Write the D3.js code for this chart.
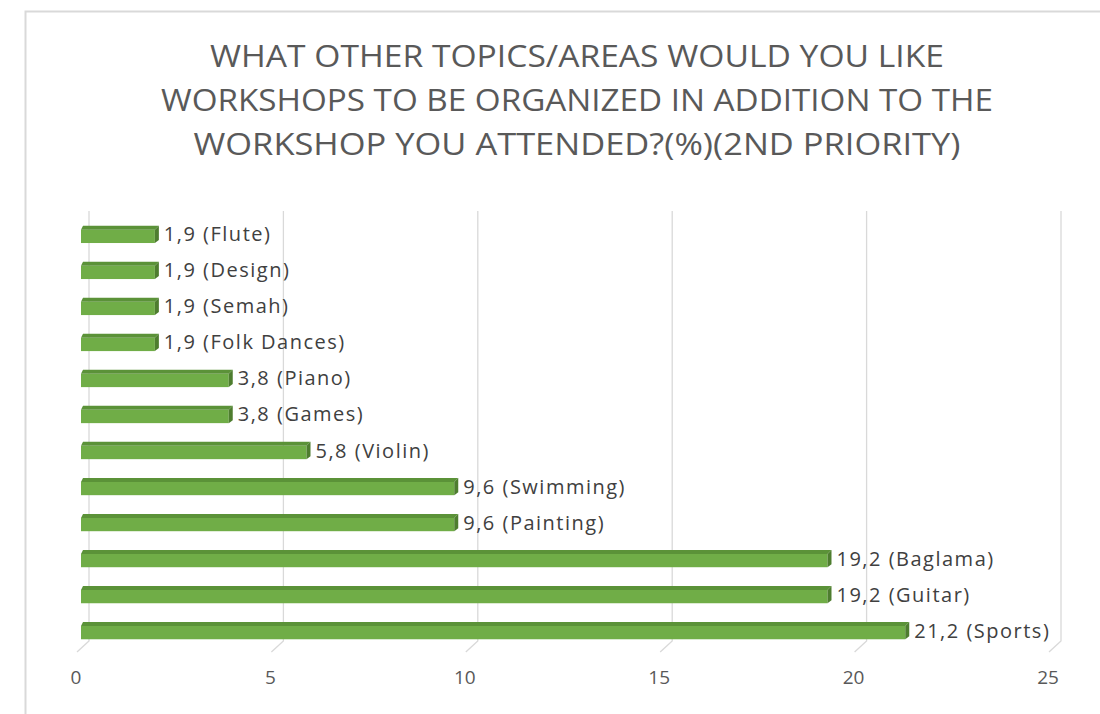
<!DOCTYPE html>
<html>
<head>
    <meta charset="UTF-8">
    <title>Workshop topics (2nd priority)</title>
    <script src="https://d3js.org/d3.v7.min.js"></script>
    <style>
        body { margin: 0; background: #fff; }
        svg { display: block; }
        .title { font-family: "Open Sans", sans-serif; font-size: 31px; font-weight: 500; fill: #595959; text-anchor: middle; }
        .lbl { font-family: "Open Sans", sans-serif; font-size: 20px; fill: #404040; letter-spacing: 1.5px; }
        .tick-lbl { font-family: "Open Sans", sans-serif; font-size: 19px; fill: #595959; text-anchor: middle; }
    </style>
</head>
<body>
<div id="chart"></div>
<script>
    // data, top to bottom
    var categories = ["Flute", "Design", "Semah", "Folk Dances", "Piano", "Games",
                      "Violin", "Swimming", "Painting", "Baglama", "Guitar", "Sports"];
    var values = [1.9, 1.9, 1.9, 1.9, 3.8, 3.8, 5.8, 9.6, 9.6, 19.2, 19.2, 21.2];
    var tickValues = [0, 5, 10, 15, 20, 25];
    var titleLines = [
        "WHAT OTHER TOPICS/AREAS WOULD YOU LIKE",
        "WORKSHOPS TO BE ORGANIZED IN ADDITION TO THE",
        "WORKSHOP YOU ATTENDED?(%)(2ND PRIORITY)"
    ];
    var titleWidths = [734, 832, 767];

    var W = 1100, H = 714;
    var depth = 8; // fake 3d shift

    var svg = d3.select("#chart").append("svg")
        .attr("width", W)
        .attr("height", H);

    svg.append("rect")
        .attr("x", 25.5).attr("y", 11.5)
        .attr("width", W).attr("height", H)
        .attr("fill", "#fff")
        .attr("stroke", "#d9d9d9")
        .attr("stroke-width", 2);

    svg.selectAll(".title")
        .data(titleLines)
        .enter().append("text")
        .attr("class", "title")
        .attr("x", 577)
        .attr("y", function(d, i) { return 67 + i * 44; })
        .attr("textLength", function(d, i) { return titleWidths[i]; })
        .attr("lengthAdjust", "spacingAndGlyphs")
        .text(function(d) { return d; });

    var x = d3.scaleLinear().domain([0, 25]).range([89, 1061]);
    var y = d3.scaleBand().domain(categories).range([207, 658]).padding(0.52);

    var gridTop = 211, gridBottom = 641;

    // gridlines with the 3d floor corner
    var grid = svg.append("g");
    grid.selectAll("path")
        .data(tickValues)
        .enter().append("path")
        .attr("d", function(d) {
            return "M" + x(d) + "," + gridTop + "V" + gridBottom +
                   "L" + (x(d) - 12) + "," + (gridBottom + 11);
        })
        .attr("fill", "none")
        .attr("stroke", "#d9d9d9")
        .attr("stroke-width", 1.3);

    svg.selectAll(".tick-lbl")
        .data(tickValues)
        .enter().append("text")
        .attr("class", "tick-lbl")
        .attr("x", function(d) { return x(d) - 13; })
        .attr("y", 684)
        .text(function(d) { return d; });

    var rows = categories.map(function(c, i) { return {cat: c, val: values[i]}; });

    var bars = svg.selectAll(".bar")
        .data(rows)
        .enter().append("g")
        .attr("class", "bar");

    var bw = y.bandwidth();
    var topH = 4, side = 4;

    // front face
    bars.append("rect")
        .attr("x", x(0) - depth)
        .attr("y", function(d) { return y(d.cat) + topH; })
        .attr("width", function(d) { return x(d.val) - x(0); })
        .attr("height", bw - topH)
        .attr("fill", "#70ad47");

    // top face
    bars.append("path")
        .attr("d", function(d) {
            var x0 = x(0) - depth, x1 = x(d.val) - depth, t = y(d.cat);
            return "M" + x0 + "," + (t + topH) + "L" + (x0 + 2) + "," + t +
                   "L" + (x1 + side) + "," + t + "L" + x1 + "," + (t + topH) + "Z";
        })
        .attr("fill", "#5b9238");

    // right side face
    bars.append("path")
        .attr("d", function(d) {
            var x1 = x(d.val) - depth, t = y(d.cat);
            return "M" + x1 + "," + (t + topH) + "L" + (x1 + side) + "," + t +
                   "L" + (x1 + side) + "," + (t + bw - 3) + "L" + x1 + "," + (t + bw) + "Z";
        })
        .attr("fill", "#4e7d2f");

    bars.append("text")
        .attr("class", "lbl")
        .attr("x", function(d) { return x(d.val) - depth + side + 5; })
        .attr("y", function(d) { return y(d.cat) + bw / 2 + 7; })
        .text(function(d) { return String(d.val).replace(".", ",") + " (" + d.cat + ")"; });
</script>
</body>
</html>
